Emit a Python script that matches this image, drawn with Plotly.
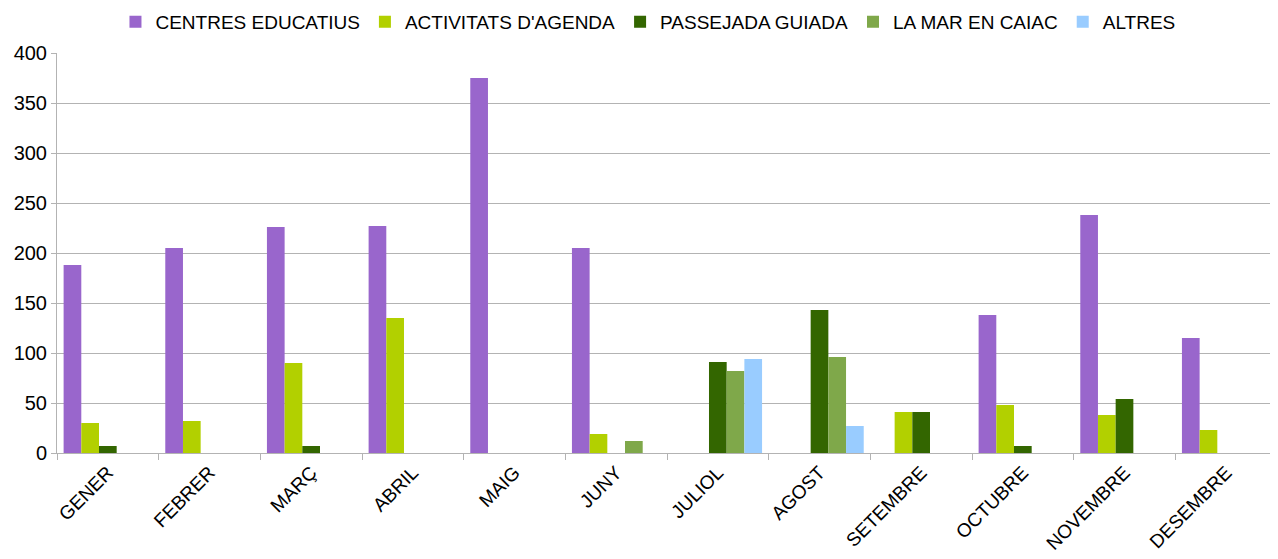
import plotly.graph_objects as go

months = ["GENER", "FEBRER", "MARÇ", "ABRIL", "MAIG", "JUNY", "JULIOL", "AGOST",
          "SETEMBRE", "OCTUBRE", "NOVEMBRE", "DESEMBRE"]

centres_educatius = [188, 205, 226, 227, 375, 205, 0, 0, 0, 138, 238, 115]
activitats_agenda = [30, 32, 90, 135, 0, 19, 0, 0, 41, 48, 38, 23]
passejada_guiada = [7, 0, 7, 0, 0, 0, 91, 143, 41, 7, 54, 0]
la_mar_en_caiac = [0, 0, 0, 0, 0, 12, 82, 96, 0, 0, 0, 0]
altres = [0, 0, 0, 0, 0, 0, 94, 27, 0, 0, 0, 0]

series = [
    ("CENTRES EDUCATIUS", centres_educatius, "#9966CC"),
    ("ACTIVITATS D'AGENDA", activitats_agenda, "#B2D000"),
    ("PASSEJADA GUIADA", passejada_guiada, "#336600"),
    ("LA MAR EN CAIAC", la_mar_en_caiac, "#7FA84A"),
    ("ALTRES", altres, "#99CCFF"),
]

fig = go.Figure()
for name, vals, col in series:
    fig.add_trace(go.Bar(x=months, y=vals, name=name, marker_color=col,
                         marker_line_width=0))

font = "Liberation Sans, Arial, sans-serif"
fig.update_layout(
    width=1270, height=551,
    margin=dict(l=49, r=1, t=45, b=106, autoexpand=False),
    paper_bgcolor="white", plot_bgcolor="white",
    barmode="group", bargap=0.13, bargroupgap=0,
    font=dict(family=font, size=20, color="black"),
    legend=dict(orientation="h", x=0.4844, xanchor="center", y=1.0775, yanchor="middle",
                font=dict(size=19), itemwidth=30, tracegroupgap=0,
                traceorder="normal"),
    showlegend=True,
)
fig.update_xaxes(
    type="category", showline=True, linecolor="#b3b3b3", linewidth=1,
    ticks="outside", tickson="boundaries", ticklen=6, tickcolor="#b3b3b3",
    tickangle=-45, tickfont=dict(size=19), showgrid=False, automargin=False,
)
fig.update_yaxes(
    range=[0, 400], dtick=50, showline=True, linecolor="#b3b3b3", linewidth=1,
    ticks="outside", ticklen=5, tickcolor="#b3b3b3",
    gridcolor="#b3b3b3", gridwidth=1, zeroline=False, tickfont=dict(size=20),
    automargin=False,
)
fig.write_html("out.html")
